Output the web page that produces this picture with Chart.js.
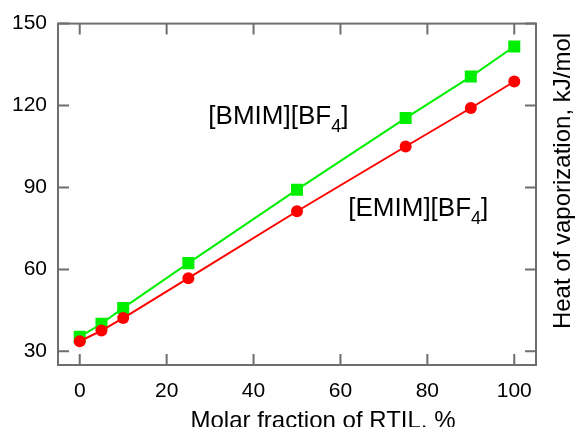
<!DOCTYPE html>
<html>
<head>
<meta charset="utf-8">
<script src="https://cdn.jsdelivr.net/npm/chart.js@4"></script>
<style>
  html, body { margin: 0; padding: 0; background: #fff; }
  #wrap { width: 580px; height: 427px; }
</style>
</head>
<body>
<div id="wrap"><canvas id="heatChart" width="580" height="427"></canvas></div>
<script>
// values
let molarFraction = [0, 5, 10, 25, 50, 75, 90, 100];
let emimHeat = [33.7, 37.6, 42.2, 56.8, 81.3, 105.0, 119.1, 128.8];
let bmimHeat = [35.3, 40.1, 45.9, 62.3, 89.2, 115.4, 130.6, 141.6];
let xTickValues = [0, 20, 40, 60, 80, 100];
let yTickValues = [30, 60, 90, 120, 150];

const fontName = "'Liberation Sans', Arial, sans-serif";

function toPoints(xs, ys) {
    let pts = [];
    for (let i = 0; i < xs.length; i++) {
        pts.push({ x: xs[i], y: ys[i] });
    }
    return pts;
}

// frame, inner ticks on all four sides, titles and the two labels
const framePlugin = {
    id: 'frame',
    beforeDatasetsDraw(chart) {
        const ctx = chart.ctx;
        const a = chart.chartArea;
        const xs = chart.scales.x;
        const ys = chart.scales.y;
        const tick = 11;
        ctx.save();
        ctx.strokeStyle = '#6e6e6e';
        ctx.lineWidth = 2;
        ctx.strokeRect(a.left, a.top, a.right - a.left, a.bottom - a.top);
        ctx.beginPath();
        xTickValues.forEach(v => {
            const px = xs.getPixelForValue(v);
            ctx.moveTo(px, a.bottom); ctx.lineTo(px, a.bottom - tick);
            ctx.moveTo(px, a.top); ctx.lineTo(px, a.top + tick);
        });
        yTickValues.forEach(v => {
            const py = ys.getPixelForValue(v);
            ctx.moveTo(a.left, py); ctx.lineTo(a.left + tick, py);
            ctx.moveTo(a.right, py); ctx.lineTo(a.right - tick, py);
        });
        ctx.stroke();
        ctx.restore();
    },
    afterDraw(chart) {
        const ctx = chart.ctx;
        const xs = chart.scales.x;
        const ys = chart.scales.y;
        ctx.save();
        ctx.fillStyle = '#000';

        // axis titles
        ctx.font = '24px ' + fontName;
        ctx.textAlign = 'center';
        ctx.textBaseline = 'alphabetic';
        ctx.fillText('Molar fraction of RTIL, %', 323, 428);

        ctx.save();
        ctx.translate(563, 181);
        ctx.rotate(-Math.PI / 2);
        ctx.textBaseline = 'middle';
        ctx.fillText('Heat of vaporization, kJ/mol', 0, 0);
        ctx.restore();

        // series labels with subscript 4
        function label(x, y, head) {
            let px = xs.getPixelForValue(x);
            let py = ys.getPixelForValue(y);
            ctx.textAlign = 'left';
            ctx.textBaseline = 'alphabetic';
            ctx.font = '26px ' + fontName;
            ctx.fillText(head, px, py);
            px += ctx.measureText(head).width;
            ctx.font = '18px ' + fontName;
            ctx.fillText('4', px, py + 8);
            px += ctx.measureText('4').width;
            ctx.font = '26px ' + fontName;
            ctx.fillText(']', px, py);
        }
        label(29.6, 113.1, '[BMIM][BF');
        label(61.8, 79.5, '[EMIM][BF');
        ctx.restore();
    }
};

const ctx = document.getElementById('heatChart').getContext('2d');

const heatChart = new Chart(ctx, {
    type: 'scatter',
    data: {
        datasets: [{
            label: '[EMIM][BF4]',
            data: toPoints(molarFraction, emimHeat),
            showLine: true,
            borderColor: '#ff0000',
            backgroundColor: '#ff0000',
            borderWidth: 2,
            pointStyle: 'circle',
            pointRadius: 6,
            pointBorderWidth: 0
        }, {
            label: '[BMIM][BF4]',
            data: toPoints(molarFraction, bmimHeat),
            showLine: true,
            borderColor: '#00ee00',
            backgroundColor: '#00ee00',
            borderWidth: 2,
            pointStyle: 'rect',
            pointRadius: 8.5,
            pointBorderWidth: 0
        }]
    },
    options: {
        responsive: false,
        animation: false,
        layout: { padding: { left: 0, right: 44, top: 23, bottom: 0 } },
        plugins: {
            legend: { display: false },
            tooltip: { enabled: false }
        },
        scales: {
            x: {
                type: 'linear',
                min: -5,
                max: 105,
                afterBuildTicks: scale => { scale.ticks = xTickValues.map(v => ({ value: v })); },
                afterFit: scale => { scale.height = 62; },
                grid: { display: false, drawTicks: false },
                border: { display: false },
                ticks: {
                    padding: 14,
                    color: '#000',
                    font: { family: fontName, size: 21 }
                }
            },
            y: {
                type: 'linear',
                min: 25,
                max: 150,
                afterBuildTicks: scale => { scale.ticks = yTickValues.map(v => ({ value: v })); },
                afterFit: scale => { scale.width = 58; },
                grid: { display: false, drawTicks: false },
                border: { display: false },
                ticks: {
                    padding: 11,
                    color: '#000',
                    font: { family: fontName, size: 21 }
                }
            }
        }
    },
    plugins: [framePlugin]
});
</script>
</body>
</html>
